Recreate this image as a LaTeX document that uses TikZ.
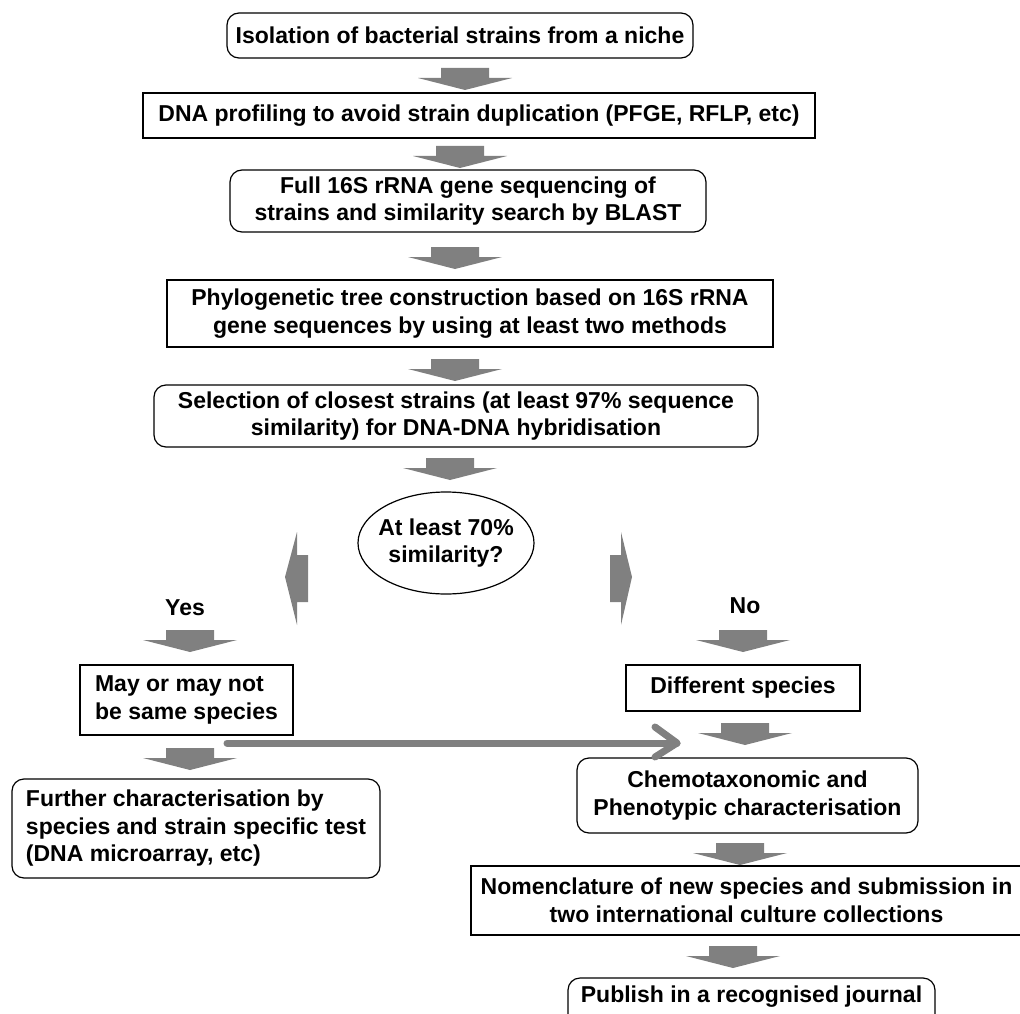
\documentclass[tikz,border=0pt]{standalone}
\usepackage{fontspec}
\setmainfont{Liberation Sans}
\usetikzlibrary{shapes.geometric}
\definecolor{arrowgray}{HTML}{808080}
\begin{document}
\begin{tikzpicture}[x=1pt,y=-1pt,
  txt/.style={font=\fontsize{23}{27.5}\selectfont\bfseries, align=center, inner sep=0pt},
  sbox/.style={txt, draw, line width=1.2pt, rectangle},
  rbox/.style={sbox, rounded corners=12pt},
  blk/.pic={\fill[arrowgray] (-24,0) -- (24,0) -- (24,10) -- (47,10) -- (0,22) -- (-47,10) -- (-24,10) -- cycle;}
]
\useasboundingbox (0,0) rectangle (1020,1014);

% main column
\node[rbox, minimum width=466, minimum height=45] (b1) at (460,35.5) {Isolation of bacterial strains from a niche};
\node[sbox, minimum width=672, minimum height=45] (b2) at (479,115.5) {DNA profiling to avoid strain duplication (PFGE, RFLP, etc)};
\node[rbox, minimum width=476, minimum height=62] (b3) at (468,201) {Full 16S rRNA gene sequencing of\\strains and similarity search by BLAST};
\node[sbox, minimum width=606, minimum height=67] (b4) at (470,313.5) {Phylogenetic tree construction based on 16S rRNA\\gene sequences by using at least two methods};
\node[rbox, minimum width=604, minimum height=62] (b5) at (456,416) {Selection of closest strains (at least 97\% sequence\\similarity) for DNA-DNA hybridisation};
\node[txt, ellipse, draw, line width=1.2pt, inner xsep=-6pt, minimum width=176, minimum height=102] (dec) at (446,543) {At least 70\%\\similarity?};

% branch labels
\node[txt] (yes) at (185,608) {Yes};
\node[txt] (no) at (745,606) {No};

% left branch
\node[sbox, align=left, minimum width=213, minimum height=70] (may) at (186.5,700) {May or may not\\be same species};
\node[rbox, align=left, minimum width=368, minimum height=99] (fur) at (196,828.5) {Further characterisation by\\species and strain specific test\\(DNA microarray, etc)};

% right branch
\node[sbox, minimum width=234, minimum height=46] (dif) at (743,688) {Different species};
\node[rbox, minimum width=341, minimum height=75] (che) at (747.5,795.5) {Chemotaxonomic and\\Phenotypic characterisation};
\node[sbox, minimum width=551, minimum height=69] (nom) at (746.5,900.5) {Nomenclature of new species and submission in\\two international culture collections};
\node[rbox, minimum width=367, minimum height=50, text depth=17pt] (pub) at (751.5,1003) {Publish in a recognised journal};

% block arrows
\pic at (465,68) {blk};
\pic at (460,146) {blk};
\pic at (455,247) {blk};
\pic at (455,359) {blk};
\pic at (450,458) {blk};
\pic at (190,630) {blk};
\pic at (190,748) {blk};
\pic at (743,630) {blk};
\pic at (745,723) {blk};
\pic at (740,843) {blk};
\pic at (733,946) {blk};

% side arrows of the decision
\fill[arrowgray] (308,555) -- (297,555) -- (297,532) -- (285,577) -- (297,625) -- (297,602) -- (308,602) -- cycle;
\fill[arrowgray] (610,555) -- (621,555) -- (621,532) -- (632,577) -- (621,625) -- (621,602) -- (610,602) -- cycle;

% long connector from left branch to right branch
\coordinate (ls) at (227,743);
\coordinate (le) at (677,743);
\draw[arrowgray, line width=7pt, line cap=round] (ls) -- (le);
\draw[arrowgray, line width=7pt, line join=round, line cap=round] ([xshift=-22pt,yshift=16pt]le) -- (le) -- ([xshift=-22pt,yshift=-14pt]le);
\end{tikzpicture}
\end{document}
